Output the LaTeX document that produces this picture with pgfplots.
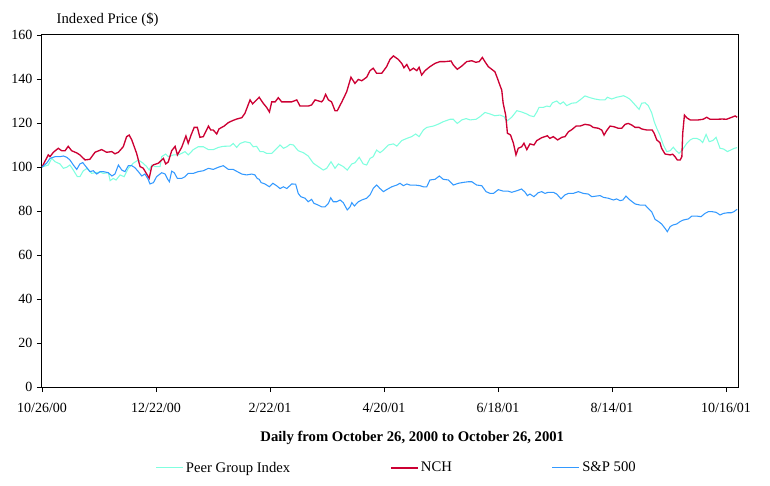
\documentclass[border=0pt]{standalone}
\usepackage{fontspec}
\setmainfont{Liberation Serif}
\usepackage{pgfplots}
\pgfplotsset{compat=1.18}
\usepackage{pgfplotstable}

\definecolor{peer}{HTML}{80FFDF}
\definecolor{nch}{HTML}{CC0033}
\definecolor{spx}{HTML}{3399FF}

% trading-day index vs. indexed price
\pgfplotstableread{
d v
0 100
2.2 100.9
3.4 103.9
4.6 102.4
6.3 101.4
7.5 99.4
8.7 99.9
9.8 100.9
11.0 98.6
12.4 95.6
13.3 95.6
14.5 98.3
15.9 99.4
17.4 97.1
18.6 97.4
20.4 97.7
21.5 97.1
23.3 97.4
23.9 93.8
25.0 94.8
26.0 94.1
27.4 96.4
28.8 95.6
30.3 99.4
32.0 101.7
33.8 103.2
35.5 101.7
36.7 100.2
37.6 98.6
38.5 100.9
39.6 100.2
41.4 100.2
42.0 104.7
43.4 105.9
44.3 104.7
46.1 105.5
47.8 105.5
49.0 106.2
50.2 107
51.3 105.5
53.1 107.9
54.8 109.2
56.6 109.2
58.4 107.9
60.1 107.9
61.9 108.9
63.6 109.4
66.0 109.5
67.1 110.7
68.3 108.9
69.5 110.7
71.2 111.5
73.0 111
74.1 109.2
75.3 109.4
76.5 107
77.6 107
78.8 106.2
80.6 106.2
82.4 108.5
83.5 110
84.7 108.5
85.9 109.2
87.0 110.3
88.2 110
89.9 107.4
91.7 106.5
93.4 105
95.2 101.7
96.9 100.2
98.7 98.6
99.9 99.4
101.4 102.4
102.8 99.4
104.0 101.4
105.7 100.2
107.1 98.6
108.7 101.4
109.8 101.9
111.3 104.4
112.7 101.4
113.9 100.9
115.1 103.9
116.2 104.7
117.4 107.7
118.6 106.5
119.8 107.7
121.5 110
123.3 110.5
124.5 109.5
126.2 112
128.0 113
129.7 113.8
131.1 115
132.3 113.8
133.8 116.8
135.0 118
137.3 118.6
139.1 119.5
140.8 120.6
143.2 121.7
144.3 121.7
145.7 119.8
147.3 121.4
148.8 122
150.2 121.4
152.3 121.7
153.7 122.9
155.4 124.8
157.2 124.1
158.9 123.3
160.7 123.6
162.1 122.9
163.0 120.8
164.8 122.6
166.6 125.6
168.3 125
170.1 124.1
171.2 123.3
172.6 122.9
173.6 125
174.4 127.1
175.9 127.1
177.1 127.7
178.2 127.4
179.1 129.2
180.6 130
181.8 128.6
182.9 129.6
184.1 127.9
185.9 129
187.4 129.2
188.8 130.5
190.5 132.3
192.3 131.5
194.0 130.9
195.8 130.5
197.5 130.5
198.4 131.7
199.9 130.9
201.6 131.7
202.8 132
204.0 132.4
205.2 131.7
206.3 130.8
208.1 128.2
209.5 126.2
210.4 129
211.6 129.2
212.7 127.9
213.9 124.7
214.8 120.6
215.7 117.6
216.8 114.5
218.0 110
219.2 107
220.4 107.4
221.5 109
222.5 107.4
223.5 106.2
224.8 108
226.2 110.7
227.4 112.3
228.5 113
229.7 113
230.9 112.3
231.8 111.1
233.0 114.8
234.1 111.5
235.3 112
236.5 113.5
237.9 108.5
239.1 108.2
240.5 107
241.6 107.7
242.9 108.5
243.9 108.8
}\peertable

\pgfplotstableread{
d v
0 100
2.2 105.5
2.8 104.7
4.0 106.7
5.7 108.5
6.9 107.4
8.1 107.4
9.2 109.4
10.4 107.4
12.2 106.4
13.3 105.5
15.1 103.2
16.8 103.5
18.6 106.7
20.9 107.9
22.7 106.7
24.5 107
25.6 106
26.8 106.7
28.5 109.2
29.7 113.8
30.6 114.5
31.5 112.3
33.2 106.2
34.4 100.2
35.5 99.5
37.6 94.9
38.5 100.2
39.1 101
40.8 101.7
42.6 103.9
43.4 101.4
44.3 102.3
45.5 107.4
46.7 109.4
47.5 105.5
49.0 108.9
50.5 114.1
51.3 110.8
52.3 114.5
53.4 118
54.5 118
55.4 113.5
56.6 113.8
58.4 118.6
59.2 116.8
60.1 116.8
61.3 115
62.1 117.3
63.9 118.6
65.4 120.2
66.9 121.1
68.3 121.8
70.1 122.4
71.2 124.4
73.0 130.5
73.9 128.7
75.3 130.5
76.2 131.7
77.6 129
78.8 127.1
79.8 125
80.6 129.6
81.8 129.6
82.9 131.5
84.1 129.6
85.9 129.6
87.6 129.6
89.4 130.5
90.5 127.7
93.4 127.7
94.6 128.2
95.8 130.5
98.1 129.6
98.7 130.5
99.5 133
100.5 130.5
101.6 129.6
102.8 125.6
103.6 125.6
105.2 129.6
106.9 134.2
108.4 140.8
109.8 138
111.0 139.8
112.2 139.2
113.9 140.8
115.1 143.8
116.2 144.9
117.4 142.6
119.2 142.6
120.9 145.6
122.1 148.9
123.3 150.5
125.0 148.9
126.2 147.1
127.0 145.1
128.0 146.6
129.1 143.8
130.3 144.9
131.5 143.8
132.3 145.3
133.2 141.8
134.4 143.8
136.1 145.6
137.9 147.1
139.6 147.9
141.4 147.9
143.5 148.2
144.3 146.4
145.7 144.4
147.3 145.9
149.0 147.9
150.8 148.3
152.2 147.6
153.4 147.9
154.5 149.8
155.4 147.9
156.6 145.6
157.8 144.4
158.9 143.3
159.8 140.3
160.7 137
161.3 135
161.8 129
162.7 123.5
163.3 115.3
164.0 114.9
164.4 114.5
165.4 110.8
166.3 105.5
167.1 108.5
168.3 109.2
169.1 110.8
170.1 107.9
171.2 110.5
172.6 110
173.6 112
175.3 113.3
177.3 114.2
178.2 113
179.4 113.8
180.9 112.3
182.4 113.5
183.5 113.8
184.7 116
185.9 117
187.4 118.6
188.8 118.6
190.5 119.4
192.3 119
193.4 118
195.2 117.6
196.4 116.8
197.2 114.5
198.1 116.5
199.3 118.6
200.7 118.3
202.2 117.6
203.4 117.6
204.6 119.4
205.7 119.8
206.9 119.1
208.1 118
209.5 118
210.4 117.3
212.2 116.8
214.1 116.8
214.8 115.3
215.7 112.3
216.8 111.1
217.4 108.5
218.6 105.9
220.4 105.5
221.3 105.8
222.1 104.7
222.9 103.2
223.9 103.2
224.5 104.7
224.8 115.3
225.4 123.6
226.2 122.4
227.4 121.4
228.5 121.4
230.3 121.4
232.0 121.7
233.2 122.6
234.4 121.7
236.7 121.7
238.7 121.8
240.2 121.7
242.0 122.6
243.2 123.2
243.9 122.6
}\nchtable

\pgfplotstableread{
d v
0 100
1.6 101.7
2.8 103.9
4.6 104.7
6.3 104.7
7.5 105
8.7 104.4
9.8 103.2
11.0 100.9
12.2 98.9
13.3 101.4
14.3 102
15.4 100.2
16.8 97.9
18.0 98.3
19.2 96.8
20.4 97.9
21.5 97.9
23.3 97.4
24.5 95.9
25.6 96.8
26.8 100.9
28.0 98.6
29.1 97.9
30.3 100.6
31.5 100.6
32.6 99.7
33.8 97.9
35.0 95.9
36.1 96.8
37.1 94.8
37.9 92.3
39.1 92.9
40.2 95.6
42.0 97.4
43.2 96.8
44.1 94.4
44.7 93.3
45.5 98.1
46.4 97.4
47.5 94.8
49.0 94.8
50.2 95.6
51.3 97.1
53.1 97.1
54.8 97.9
56.6 98.3
58.4 99.4
60.1 98.9
61.9 99.9
63.6 100.6
65.4 98.9
67.1 98.9
68.5 97.9
70.1 96.8
71.8 96.4
73.6 96.8
74.7 96.4
75.5 94.8
76.2 94.4
76.9 92.9
78.2 92.3
79.8 91
81.0 92.6
82.4 91.4
83.5 90.2
84.7 91
85.9 90.2
87.6 92.3
89.0 92.2
89.9 88
90.8 86.5
92.3 85.8
93.4 84.2
94.6 85.3
95.4 83.5
96.9 82.7
98.1 81.9
99.3 81.9
100.5 83.5
101.3 86
102.2 84.2
103.4 84.2
104.6 85
105.7 83.8
107.1 80.5
108.1 81.9
108.7 83.8
109.6 82.3
111.0 84.2
112.2 85
113.9 85.8
115.1 87.3
116.2 90.2
117.4 91.8
118.6 90.2
119.8 88.8
120.9 89.7
122.7 91
124.5 91.8
125.6 92.6
126.8 91.5
128.0 92.3
129.1 91.8
130.9 91.8
132.6 91.5
133.8 91
135.0 91
136.1 94.1
137.9 94.4
139.4 95.9
140.8 94.4
142.6 94.1
144.3 91.8
146.1 92.6
147.8 93
149.6 93.3
150.8 93.3
152.5 91.8
154.3 91.5
155.8 88.8
157.2 88
158.4 88
160.1 89.7
161.9 89
163.6 89
164.8 88.5
166.6 89.2
168.3 90
169.5 88.5
170.3 87
171.2 87.7
172.6 86.5
174.1 88.3
175.3 88.8
176.5 88
177.6 88.5
179.4 88.5
180.6 87.7
182.1 85.5
183.5 87.3
184.7 88
186.4 88
188.2 88.8
189.9 88
191.7 87.7
192.9 86.5
194.6 86.8
195.8 87
197.0 86.2
198.7 85.8
200.5 85
201.6 85.5
202.8 84.7
203.8 85
204.9 86.8
206.3 85
208.1 83.2
209.8 82.7
211.6 82.7
212.7 81.2
213.9 79.7
215.1 76.2
216.3 75.2
217.4 74.1
218.6 72.1
219.4 70.6
220.4 72.9
221.3 73.6
222.7 74.1
223.9 75.2
225.0 75.9
226.8 76.4
228.0 77.7
229.7 77.7
231.2 77.4
232.6 78.9
233.8 79.7
235.1 79.7
236.5 79.4
237.9 78.2
239.1 78.9
240.5 79.2
241.8 79.2
242.8 79.7
243.9 80.8
}\sptable

\begin{document}
\begin{tikzpicture}[font=\fontsize{11}{13}\selectfont]
\useasboundingbox (-31.5pt,-73.5pt) rectangle (546pt,290.25pt);
\begin{axis}[
    scale only axis,
    width=522pt, height=264pt,
    xmin=0, xmax=244.2,
    ymin=0, ymax=160,
    xtick={0,40,80,120,160,200,240},
    xticklabels={10/26/00,12/22/00,2/22/01,4/20/01,6/18/01,8/14/01,10/16/01},
    ytick={0,20,...,160},
    xtick pos=left, ytick pos=left,
    tick align=outside,
    major tick length=3.75pt,
    tick style={black, line width=0.6pt},
    axis line style={line width=0.75pt},
    /pgf/number format/assume math mode=true,
    ticklabel style={font=\fontsize{10.5}{12}\selectfont},
    xticklabel style={yshift=-5pt},
    xlabel={\textbf{Daily from October 26, 2000 to October 26, 2001}},
    xlabel style={at={(axis description cs:0.532,-0.145)}, anchor=center},
    legend columns=3,
    legend image code/.code={\draw[#1] (0pt,0pt) -- (20pt,0pt);},
    legend style={draw=none, fill=none, at={(axis description cs:0.51,-0.23)}, anchor=center,
        font=\fontsize{11}{13}\selectfont,
        /tikz/every even column/.append style={column sep=73pt},
        inner sep=0pt},
]
\addplot[peer, line width=0.8pt] table[x=d, y=v] {\peertable};
\addlegendentry{Peer Group Index}
\addplot[nch, line width=1.0pt] table[x=d, y=v] {\nchtable};
\addlegendentry{NCH}
\addplot[spx, line width=0.8pt] table[x=d, y=v] {\sptable};
\addlegendentry{S\&P 500}
\end{axis}
\node[anchor=west] at (7.5pt,275.25pt) {Indexed Price (\$)};
\end{tikzpicture}
\end{document}
